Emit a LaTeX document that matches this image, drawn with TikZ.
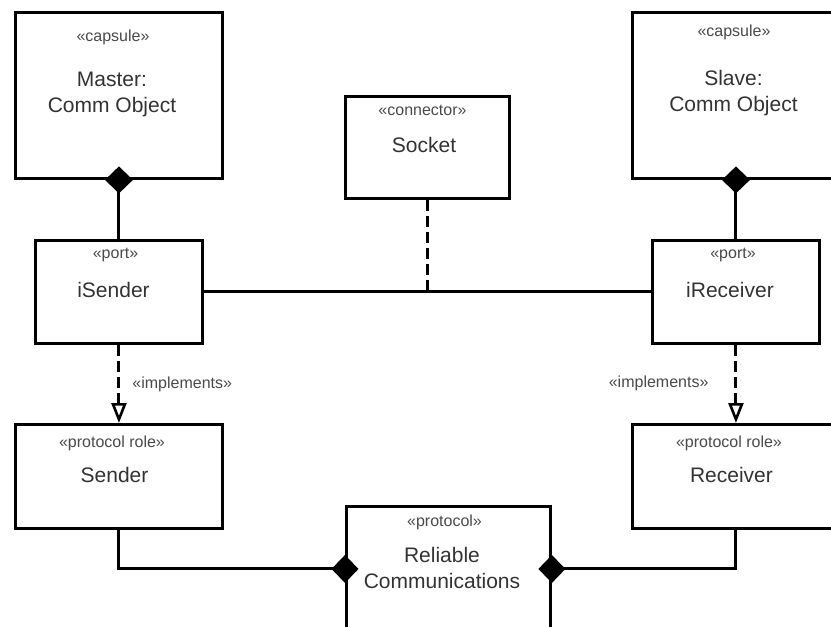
\documentclass[tikz,border=0pt]{standalone}
\usepackage{fontspec}
\setmainfont{Liberation Sans}
\usetikzlibrary{arrows.meta}
\definecolor{txt}{HTML}{333333}
\definecolor{stx}{HTML}{4A4A4A}
\tikzset{
  umlbox/.style={draw=black, line width=2.9pt, fill=white, inner sep=0pt, anchor=north west},
  maintext/.style={text=txt, font=\fontsize{21}{26}\selectfont, inner sep=0pt, align=center},
  stereo/.style={text=stx, font=\fontsize{16}{18}\selectfont, inner sep=0pt},
  conn/.style={draw=black, line width=3pt},
  dashconn/.style={conn, dash pattern=on 11pt off 5pt},
  compose/.style={conn, -{Diamond[length=27pt,width=28pt]}, shorten >=-13.5pt},
  realize/.style={dashconn, -{Triangle[open,length=20pt,width=15pt,line width=2.6pt]}}
}
\begin{document}
\begin{tikzpicture}[x=1pt,y=-1pt]
\useasboundingbox[fill=white] (0,0) rectangle (831,627);
\clip (0,0) rectangle (831,627);
% boxes
\node[umlbox, minimum width=207pt, minimum height=166pt] (master) at (14,11) {};
\node[umlbox, minimum width=207pt, minimum height=166pt] (slave) at (631,11) {};
\node[umlbox, minimum width=164pt, minimum height=102pt] (socket) at (344,95) {};
\node[umlbox, minimum width=167pt, minimum height=103pt] (isender) at (34,239) {};
\node[umlbox, minimum width=167pt, minimum height=103pt] (ireceiver) at (651,239) {};
\node[umlbox, minimum width=207pt, minimum height=104pt] (sender) at (14,423) {};
\node[umlbox, minimum width=207pt, minimum height=104pt] (receiver) at (631,423) {};
\node[umlbox, minimum width=204pt, minimum height=125pt] (reliable) at (345,505) {};
% texts
\node[stereo] (mst) at (113,37) {«capsule»};
\node[maintext] (mname) at (112,94) {Master:\\Comm Object};
\node[stereo] (sst) at (734,32) {«capsule»};
\node[maintext] (sname) at (733.5,93.5) {Slave:\\Comm Object};
\node[stereo] (cst) at (422.5,110) {«connector»};
\node[maintext] (cname) at (424,145) {Socket};
\node[stereo] (ist) at (115.5,255) {«port»};
\node[maintext] (iname) at (113.5,290) {iSender};
\node[stereo] (rst) at (733,255) {«port»};
\node[maintext] (rname) at (730,290) {iReceiver};
\node[stereo] (sdst) at (112,443) {«protocol role»};
\node[maintext] (sdname) at (114.5,475) {Sender};
\node[stereo] (rcst) at (729,443) {«protocol role»};
\node[maintext] (rcname) at (731.5,475) {Receiver};
\node[stereo] (pst) at (444.5,522) {«protocol»};
\node[maintext] (pname) at (442,567.5) {Reliable\\Communications};
% connectors
\draw[compose] (isender.north) -- (master.south);
\draw[compose] (ireceiver.north) -- (slave.south);
\draw[conn] (isender.east) -- (ireceiver.west);
\coordinate (sockjoin) at (socket.south |- isender.east);
\draw[dashconn] (socket.south) -- (sockjoin);
\draw[realize] (isender.south) -- node[stereo, right=12pt, yshift=-0.5pt] (impl1) {«implements»} (sender.north);
\draw[realize] (ireceiver.south) -- node[stereo, left=26pt, yshift=0.5pt] (impl2) {«implements»} (receiver.north);
\draw[compose] (sender.south) |- (reliable.west);
\draw[compose] (receiver.south) |- (reliable.east);
\end{tikzpicture}
\end{document}
